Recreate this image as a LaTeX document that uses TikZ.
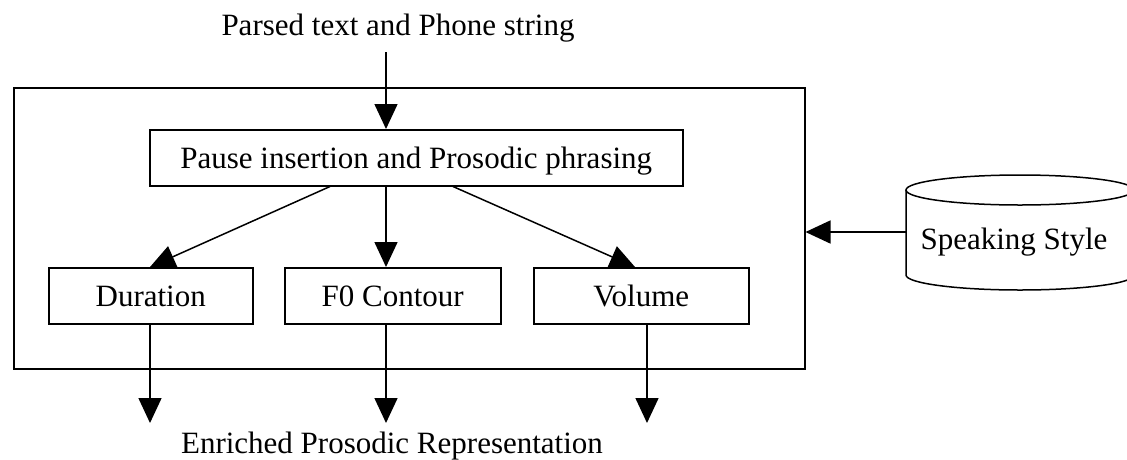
\documentclass[tikz,border=0pt]{standalone}
\usepackage{fontspec}
\setmainfont{Liberation Serif}
\usetikzlibrary{arrows.meta}
\begin{document}
\begin{tikzpicture}[x=1pt,y=-1pt,
  every node/.style={font=\fontsize{31}{36}\selectfont},
  boxnode/.style={draw,line width=1.5pt,inner sep=0pt,text height=25pt,text depth=3pt,anchor=north west},
  arr/.style={line width=1.5pt,-{Triangle[length=25pt,width=23pt]}},
  plain/.style={line width=1.5pt}]
\useasboundingbox (0,0) rectangle (1127,459);
% outer box
\node[draw,line width=1.5pt,inner sep=0pt,minimum width=791pt,minimum height=281pt,anchor=north west] (outer) at (13,87) {};
% inner boxes
\node[boxnode,minimum width=533pt,minimum height=56pt] (pause) at (149,129) {Pause insertion and Prosodic phrasing};
\node[boxnode,minimum width=204pt,minimum height=56pt,text depth=0pt,text height=22pt] (dur) at (48,267) {Duration};
\node[boxnode,minimum width=216pt,minimum height=56pt,text depth=0pt,text height=22pt] (f0) at (284,267) {F0 Contour};
\node[boxnode,minimum width=215pt,minimum height=56pt,text depth=0pt,text height=22pt] (vol) at (533,267) {Volume};
% texts
\node[anchor=base] (intxt) at (398,35) {Parsed text and Phone string};
\node[anchor=base] (outtxt) at (392,453) {Enriched Prosodic Representation};
\coordinate (instart) at (386,52);
% cylinder
\draw[plain] (1020,190) ellipse [x radius=114, y radius=15];
\draw[plain] (906,190) -- (906,275) arc[start angle=180,end angle=0,x radius=114,y radius=15] -- (1134,190);
\node[anchor=base] (style) at (1014,249) {Speaking Style};
\coordinate (cylL) at (906,232);
% arrows
\draw[arr] (instart) -- (instart |- pause.north);
\draw[arr] ([xshift=181pt]pause.south west) -- ([xshift=102pt]dur.north west);
\draw[arr] ([xshift=237pt]pause.south west) -- ([xshift=102pt]f0.north west);
\draw[arr] ([xshift=304pt]pause.south west) -- ([xshift=102pt]vol.north west);
\coordinate (o1) at (150,423);
\coordinate (o2) at (386,423);
\coordinate (o3) at (647,423);
\draw[arr] (dur.south -| o1) -- (o1);
\draw[arr] (f0.south -| o2) -- (o2);
\draw[arr] (vol.south -| o3) -- (o3);
\draw[arr] (cylL) -- (outer.east |- cylL);
\end{tikzpicture}
\end{document}
